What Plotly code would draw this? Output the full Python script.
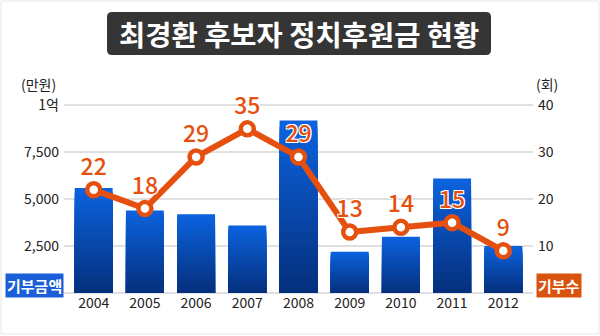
import plotly.graph_objects as go

years = ["2004", "2005", "2006", "2007", "2008", "2009", "2010", "2011", "2012"]
amounts = [5600, 4400, 4200, 3600, 9200, 2200, 3000, 6100, 2500]   # 만원
counts = [22, 18, 29, 35, 29, 13, 14, 15, 9]                       # 회

left_ticks = [2500, 5000, 7500, 10000]
left_labels = ["2,500", "5,000", "7,500", "1억"]
right_ticks = [10, 20, 30, 40]

FONT = "Noto Sans CJK KR"
ORANGE = "#e6500f"
TOP = (12, 98, 222)
BOTTOM = (5, 48, 125)

fig = go.Figure()

# vertical blue gradient: stacked overlay of shrinking bars
N = 28
for k in range(N):
    frac = 1 - k / N
    t = k / (N - 1)
    c = tuple(round(TOP[i] + (BOTTOM[i] - TOP[i]) * t) for i in range(3))
    fig.add_trace(go.Bar(
        x=years, y=[v * frac for v in amounts],
        marker=dict(color="rgb(%d,%d,%d)" % c, line=dict(width=0)),
        hoverinfo="skip", showlegend=False,
    ))

fig.add_trace(go.Scatter(
    x=years, y=counts, yaxis="y2", mode="lines+markers+text",
    line=dict(color=ORANGE, width=6),
    marker=dict(size=13, color="white", line=dict(color=ORANGE, width=4.5)),
    text=[str(c) for c in counts], textposition="top center",
    textfont=dict(family=FONT, size=23, color=ORANGE, weight=500,
                  shadow="1px 1px 0 #fff, -1px -1px 0 #fff, 1px -1px 0 #fff, -1px 1px 0 #fff"),
    showlegend=False, cliponaxis=False,
))

L, R, T, B = 64, 67, 96, 43
W, H = 600, 336
pw, ph = W - L - R, H - T - B


def px(x):
    return (x - L) / pw


def py(y):
    return (H - B - y) / ph


fig.update_layout(
    width=W, height=H,
    margin=dict(l=L, r=R, t=T, b=B, pad=0),
    paper_bgcolor="white", plot_bgcolor="white",
    barmode="overlay", bargap=0.26,
    font=dict(family=FONT, size=14, color="#222"),
    xaxis=dict(type="category", showgrid=False, showline=False, ticks="",
               tickfont=dict(size=14, color="#222"), range=[-0.58, 8.58]),
    yaxis=dict(range=[0, 10500], tickvals=left_ticks, ticktext=left_labels,
               showgrid=True, gridcolor="#e0e0e0", gridwidth=1.5,
               zeroline=True, zerolinecolor="#e0e0e0", zerolinewidth=1.5,
               ticks="", ticklabelstandoff=4, tickfont=dict(size=14, color="#222")),
    yaxis2=dict(range=[0, 42], tickvals=right_ticks, overlaying="y", side="right",
                showgrid=False, zeroline=False, ticks="", ticklabelstandoff=4,
                tickfont=dict(size=14, color="#222")),
)

shapes = [
    # thin frame around the whole graphic
    dict(type="rect", xref="paper", yref="paper",
         x0=px(1), x1=px(599), y0=py(1), y1=py(334),
         line=dict(color="#e6e6e6", width=1), fillcolor="rgba(0,0,0,0)", layer="below"),
]

# rounded dark title box
bw, bh, r = 384, 43, 5
path = (f"M{-bw/2 + r},{-bh/2} L{bw/2 - r},{-bh/2} Q{bw/2},{-bh/2} {bw/2},{-bh/2 + r} "
        f"L{bw/2},{bh/2 - r} Q{bw/2},{bh/2} {bw/2 - r},{bh/2} "
        f"L{-bw/2 + r},{bh/2} Q{-bw/2},{bh/2} {-bw/2},{bh/2 - r} "
        f"L{-bw/2},{-bh/2 + r} Q{-bw/2},{-bh/2} {-bw/2 + r},{-bh/2} Z")
shapes.append(dict(type="path", xref="paper", yref="paper",
                   xsizemode="pixel", ysizemode="pixel",
                   xanchor=px(299), yanchor=py(33.5), path=path,
                   fillcolor="#353535", line=dict(width=0)))
fig.update_layout(shapes=shapes)

annotations = [
    dict(text="<b>최경환 후보자 정치후원금 현황</b>", x=px(299), y=py(33.5),
         font=dict(family=FONT, size=28.5, color="white")),
    dict(text="(만원)", x=px(38), y=py(84), font=dict(family=FONT, size=14, color="#222")),
    dict(text="(회)", x=px(547), y=py(84), font=dict(family=FONT, size=14, color="#222")),
    dict(text="<b>기부금액</b>", x=px(34), y=py(285), bgcolor="#1a5fd8", borderpad=1,
         font=dict(family=FONT, size=15, color="white")),
    dict(text="<b>기부수</b>", x=px(559), y=py(285), bgcolor="#d8540e", borderpad=1,
         font=dict(family=FONT, size=15, color="white")),
]
for a in annotations:
    a.update(xref="paper", yref="paper", showarrow=False, xanchor="center", yanchor="middle")
fig.update_layout(annotations=annotations)

fig.write_html("out.html")
